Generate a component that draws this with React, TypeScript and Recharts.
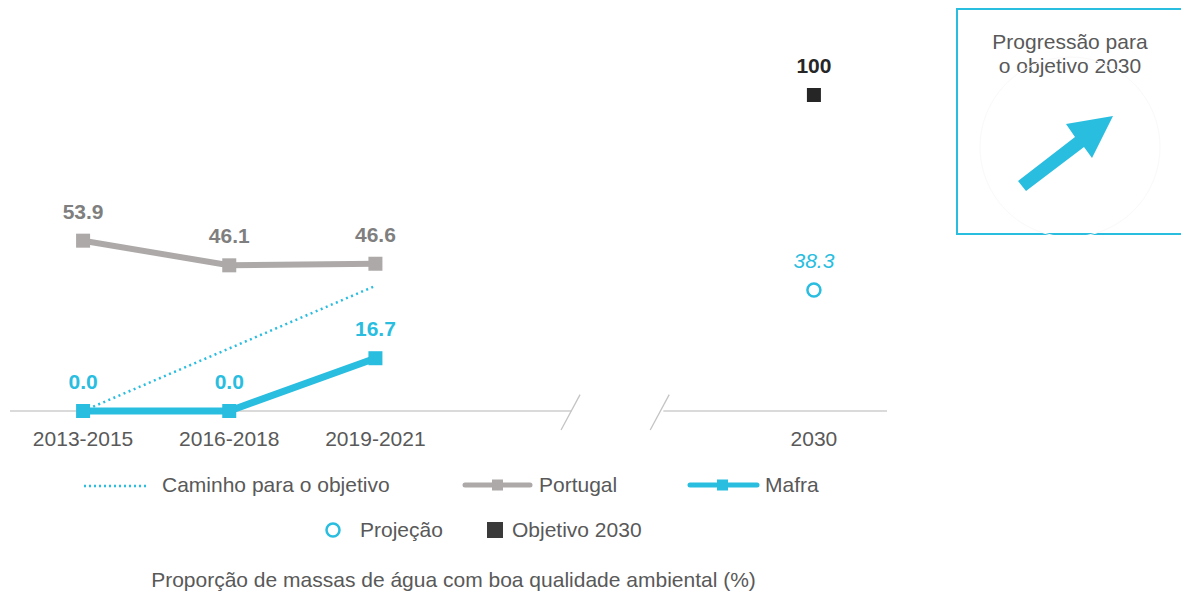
import React from "react";
import { LineChart, Line, XAxis, YAxis, ReferenceLine } from "recharts";

// periods on the x axis; 2030 sits after a broken stretch of the axis
const periodLabels = ["2013-2015", "2016-2018", "2019-2021", "2030"];
const periodPos = [0, 1, 2, 5];

const pathToTarget = [0, 19.8, 39.6, null];
const portugal = [53.9, 46.1, 46.6, null];
const mafra = [0.0, 0.0, 16.7, null];
const projection = [null, null, null, 38.3];
const target2030 = [null, null, null, 100];

const BLUE = "#29BDE0";
const GREY = "#ADA9A8";
const FONT = "'Liberation Sans', Arial, sans-serif";

const rows = periodPos.map((pos, i) => ({
  pos,
  path: pathToTarget[i],
  portugal: portugal[i],
  mafra: mafra[i],
  projection: projection[i],
  target: target2030[i],
}));

const tickLabel = (v: number) => {
  const i = periodPos.indexOf(v);
  return i >= 0 ? periodLabels[i] : "";
};

type DotOpts = {
  shape: "square" | "circle";
  color: string;
  labelColor: string;
  bold?: boolean;
  italic?: boolean;
  fmt: (v: number) => string;
};

const makeDot = (key: string, o: DotOpts) => (props: any) => {
  const { cx, cy, payload, index } = props;
  const v = payload ? payload[key] : null;
  if (v == null || cy == null || Number.isNaN(cy)) return <g key={`${key}-${index}`} />;
  return (
    <g key={`${key}-${index}`}>
      {o.shape === "square" ? (
        <rect x={cx - 7} y={cy - 7} width={14} height={14} fill={o.color} />
      ) : (
        <circle cx={cx} cy={cy} r={6.5} fill="#fff" stroke={o.color} strokeWidth={2.5} />
      )}
      <text
        x={cx}
        y={cy - 22}
        textAnchor="middle"
        fill={o.labelColor}
        fontSize={21}
        fontWeight={o.bold ? "bold" : "normal"}
        fontStyle={o.italic ? "italic" : "normal"}
        fontFamily={FONT}
      >
        {o.fmt(v)}
      </text>
    </g>
  );
};

const one = (v: number) => v.toFixed(1);

export default function App() {
  return (
    <div style={{ position: "absolute", left: 0, top: 0, width: 1181, height: 596, fontFamily: FONT, background: "#fff", overflow: "hidden" }}>
      <LineChart width={900} height={470} data={rows} margin={{ top: 95, right: 13, bottom: 19, left: 10 }}>
        <XAxis
          dataKey="pos"
          type="number"
          domain={[-0.5, 5.5]}
          ticks={periodPos}
          tickFormatter={tickLabel}
          axisLine={false}
          tickLine={false}
          tickMargin={14}
          height={40}
          tick={{ fill: "#595959", fontSize: 21, fontFamily: FONT }}
        />
        <YAxis hide domain={[0, 100]} />
        <ReferenceLine segment={[{ x: -0.5, y: 0 }, { x: 3.34, y: 0 }]} stroke="#dadada" strokeWidth={2} ifOverflow="visible" />
        <ReferenceLine segment={[{ x: 3.97, y: 0 }, { x: 5.5, y: 0 }]} stroke="#dadada" strokeWidth={2} ifOverflow="visible" />
        <ReferenceLine segment={[{ x: 3.27, y: -6 }, { x: 3.4, y: 5.2 }]} stroke="#c4c4c4" strokeWidth={1.3} ifOverflow="visible" />
        <ReferenceLine segment={[{ x: 3.88, y: -6 }, { x: 4.01, y: 5.2 }]} stroke="#c4c4c4" strokeWidth={1.3} ifOverflow="visible" />
        <Line
          dataKey="path"
          stroke={BLUE}
          strokeWidth={2.5}
          strokeDasharray="2 3.5"
          dot={false}
          activeDot={false}
          isAnimationActive={false}
        />
        <Line
          dataKey="portugal"
          stroke={GREY}
          strokeWidth={6}
          strokeLinejoin="round"
          dot={makeDot("portugal", { shape: "square", color: GREY, labelColor: "#7f7f7f", bold: true, fmt: one })}
          activeDot={false}
          isAnimationActive={false}
        />
        <Line
          dataKey="mafra"
          stroke={BLUE}
          strokeWidth={7}
          strokeLinejoin="round"
          dot={makeDot("mafra", { shape: "square", color: BLUE, labelColor: BLUE, bold: true, fmt: one })}
          activeDot={false}
          isAnimationActive={false}
        />
        <Line
          dataKey="projection"
          stroke="none"
          dot={makeDot("projection", { shape: "circle", color: BLUE, labelColor: BLUE, italic: true, fmt: one })}
          activeDot={false}
          isAnimationActive={false}
        />
        <Line
          dataKey="target"
          stroke="none"
          dot={makeDot("target", { shape: "square", color: "#262626", labelColor: "#262626", bold: true, fmt: (v) => String(v) })}
          activeDot={false}
          isAnimationActive={false}
        />
      </LineChart>

      {/* legend */}
      <div style={{ position: "absolute", top: 472, left: 0, width: 1181, height: 26, fontSize: 21, color: "#595959" }}>
        <svg style={{ position: "absolute", left: 84, top: 12 }} width={63} height={4}>
          <line x1={0} y1={2} x2={63} y2={2} stroke={BLUE} strokeWidth={2.5} strokeDasharray="2 3" />
        </svg>
        <span style={{ position: "absolute", left: 162, top: 0, lineHeight: "26px" }}>Caminho para o objetivo</span>
        <svg style={{ position: "absolute", left: 462, top: 7 }} width={71} height={12}>
          <line x1={3} y1={6} x2={68} y2={6} stroke={GREY} strokeWidth={5} strokeLinecap="round" />
          <rect x={30} y={0.5} width={11} height={11} fill={GREY} />
        </svg>
        <span style={{ position: "absolute", left: 539, top: 0, lineHeight: "26px" }}>Portugal</span>
        <svg style={{ position: "absolute", left: 687, top: 7 }} width={73} height={12}>
          <line x1={3} y1={6} x2={70} y2={6} stroke={BLUE} strokeWidth={5} strokeLinecap="round" />
          <rect x={30} y={0.5} width={11} height={11} fill={BLUE} />
        </svg>
        <span style={{ position: "absolute", left: 765, top: 0, lineHeight: "26px" }}>Mafra</span>
      </div>
      <div style={{ position: "absolute", top: 517, left: 0, width: 1181, height: 26, fontSize: 21, color: "#595959" }}>
        <svg style={{ position: "absolute", left: 324, top: 4 }} width={18} height={18}>
          <circle cx={9} cy={9} r={6.5} fill="#fff" stroke={BLUE} strokeWidth={2.5} />
        </svg>
        <span style={{ position: "absolute", left: 360, top: 0, lineHeight: "26px" }}>Projeção</span>
        <svg style={{ position: "absolute", left: 487, top: 5 }} width={16} height={16}>
          <rect x={0} y={0} width={16} height={16} fill="#3a3a3a" />
        </svg>
        <span style={{ position: "absolute", left: 512, top: 0, lineHeight: "26px" }}>Objetivo 2030</span>
      </div>
      <div style={{ position: "absolute", top: 567, left: 0, width: 907, textAlign: "center", fontSize: 21, lineHeight: "26px", color: "#595959" }}>
        Proporção de massas de água com boa qualidade ambiental (%)
      </div>

      {/* progress box */}
      <div style={{ position: "absolute", left: 956, top: 8, width: 228, height: 227, boxSizing: "border-box", border: `2.5px solid ${BLUE}` }}>
        <div style={{ position: "absolute", top: 20, left: 0, right: 0, textAlign: "center", fontSize: 21, lineHeight: "24px", color: "#595959" }}>
          Progressão para
          <br />
          o objetivo 2030
        </div>
      </div>
      <svg style={{ position: "absolute", left: 956, top: 8 }} width={228} height={227}>
        <g transform="translate(-956,-8)">
          <circle cx={1070} cy={147} r={90} fill="none" stroke="#f9f9f9" strokeWidth={1} />
          <polygon points="1018,181 1075,137 1066,124 1113,116 1092,158 1084,147 1026,191" fill={BLUE} />
        </g>
      </svg>
    </div>
  );
}
